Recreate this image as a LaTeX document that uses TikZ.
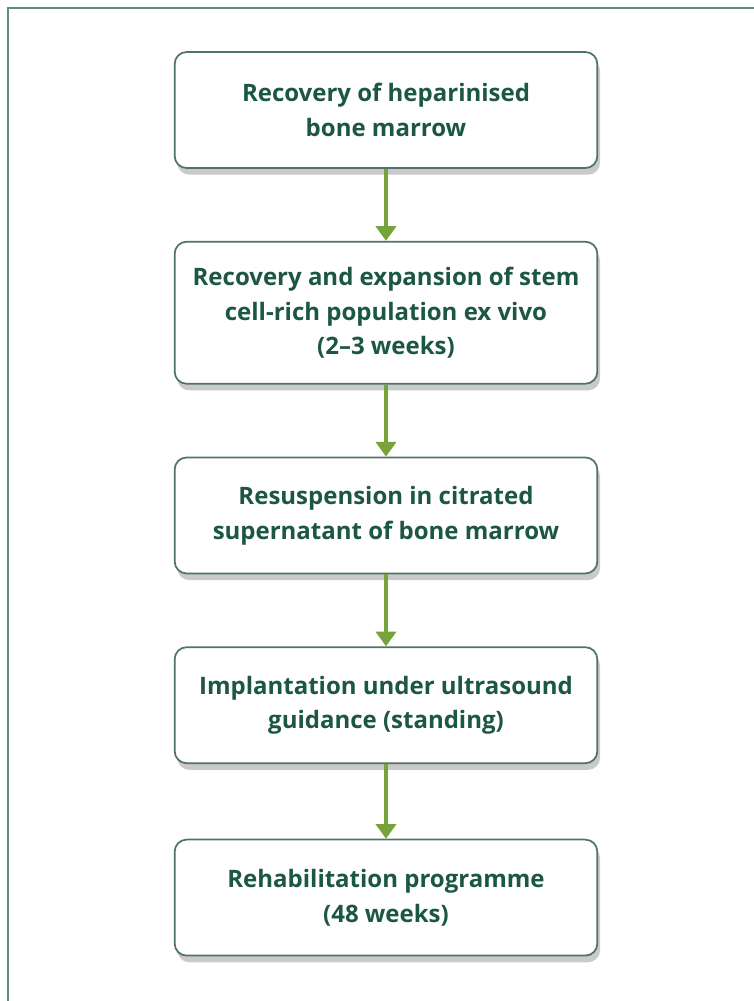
\documentclass[tikz,border=0pt]{standalone}
\usepackage{fontspec}
\setmainfont{Open Sans}
\usetikzlibrary{positioning,arrows.meta,shadows}
\definecolor{boxline}{HTML}{4F7368}
\definecolor{boxtext}{HTML}{1C5645}
\definecolor{arrowgreen}{HTML}{76A33A}
\definecolor{frameline}{HTML}{5F8D82}
\tikzset{
	stepbox/.style={draw=boxline,line width=1.3pt,rounded corners=9pt,fill=white,
		minimum width=317pt,minimum height=87pt,align=center,
		text=boxtext,font=\fontsize{18}{26}\selectfont\bfseries,
		drop shadow={shadow xshift=2pt,shadow yshift=-5pt,opacity=0.35,fill=black!60}},
	flow/.style={arrowgreen,line width=3pt,-{Triangle[width=15pt,length=11pt]}}
}
\begin{document}
\begin{tikzpicture}
	\useasboundingbox (0,0) rectangle (565.5pt,-750.75pt);
	% draw outer frame
	\draw[frameline,line width=2pt] (6pt,-750.75pt) -- (6pt,-6pt) -- (565.5pt,-6pt);
	% draw steps
	\node[stepbox] (recovery) at (289.5pt,-82.5pt) {Recovery of heparinised\\bone marrow};
	\node[stepbox,minimum height=106.5pt,below=54pt of recovery] (expansion) {Recovery and expansion of stem\\cell-rich population ex vivo\\(2--3 weeks)};
	\node[stepbox,below=54pt of expansion] (resuspension) {Resuspension in citrated\\supernatant of bone marrow};
	\node[stepbox,below=54pt of resuspension] (implantation) {Implantation under ultrasound\\guidance (standing)};
	\node[stepbox,below=56pt of implantation] (rehab) {Rehabilitation programme\\(48 weeks)};
	% draw arrows
	\draw[flow] (recovery) -- (expansion);
	\draw[flow] (expansion) -- (resuspension);
	\draw[flow] (resuspension) -- (implantation);
	\draw[flow] (implantation) -- (rehab);
\end{tikzpicture}
\end{document}
